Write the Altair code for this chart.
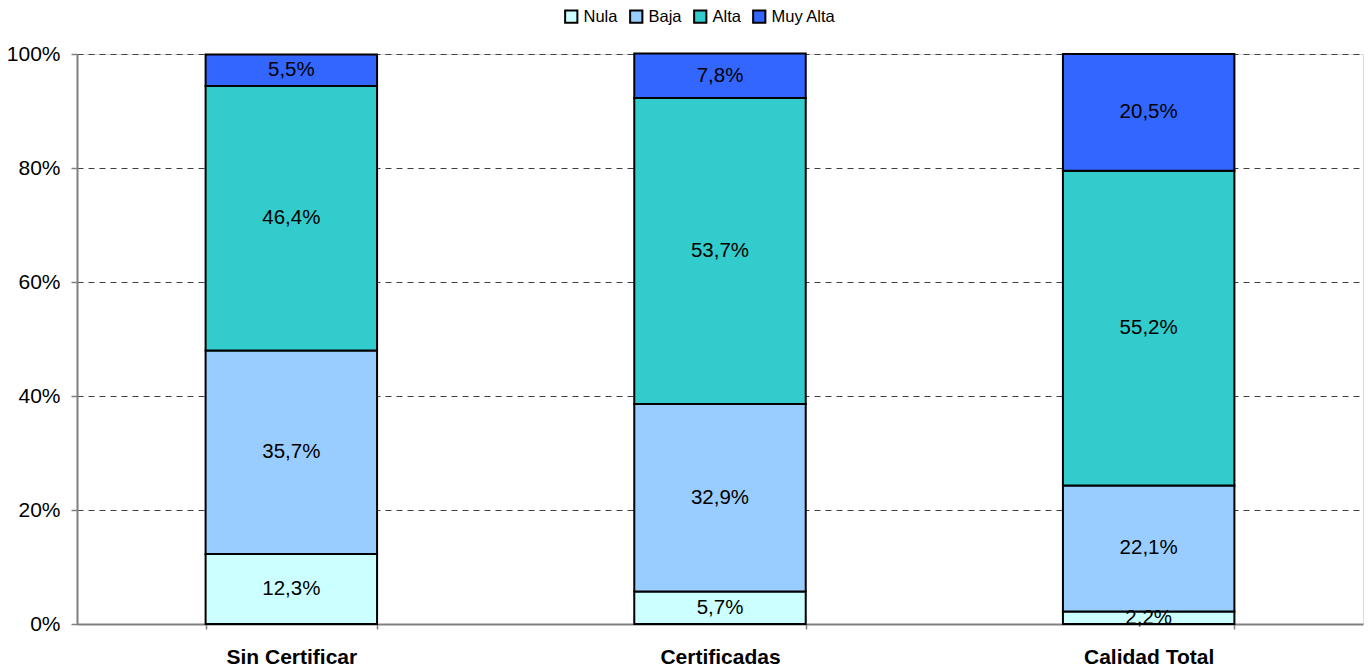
import altair as alt
import pandas as pd

# Quality-level shares (%) for each group of companies
groups = ["Sin Certificar", "Certificadas", "Calidad Total"]
levels = ["Nula", "Baja", "Alta", "Muy Alta"]
nula = [12.3, 5.7, 2.2]
baja = [35.7, 32.9, 22.1]
alta = [46.4, 53.7, 55.2]
muy_alta = [5.5, 7.8, 20.5]
level_colors = ["#CCFFFF", "#99CCFF", "#33CCCC", "#3366FF"]
y_ticks = [0, 20, 40, 60, 80, 100]

rows = []
for gi, g in enumerate(groups):
    for li, (lvl, series) in enumerate(zip(levels, [nula, baja, alta, muy_alta])):
        v = series[gi]
        rows.append({
            "grupo": g,
            "nivel": lvl,
            "orden": li,
            "valor": v,
            "etiqueta": f"{v:.1f}".replace(".", ",") + "%",
        })
df = pd.DataFrame(rows)

FONT = "Liberation Sans"

base = alt.Chart(df).transform_stack(
    stack="valor",
    groupby=["grupo"],
    sort=[alt.SortField("orden", order="ascending")],
    as_=["y0", "y1"],
).transform_calculate(
    mid="(datum.y0 + datum.y1) / 2"
)

x_enc = alt.X(
    "grupo:N",
    sort=groups,
    title=None,
    scale=alt.Scale(paddingInner=0.6, paddingOuter=0.3),
    axis=alt.Axis(
        labelAngle=0,
        labelFont=FONT,
        labelFontSize=21,
        labelFontWeight="bold",
        labelColor="black",
        labelPadding=17,
        tickBand="extent",
        tickSize=5,
        tickColor="#808080",
        tickWidth=1.5,
        domainColor="#808080",
        domainWidth=2,
        grid=False,
    ),
)

bars = base.mark_bar(stroke="black", strokeWidth=2).encode(
    x=x_enc,
    y=alt.Y(
        "y0:Q",
        title=None,
        scale=alt.Scale(domain=[0, 100], nice=False),
        axis=alt.Axis(
            values=y_ticks,
            labelExpr="datum.value + '%'",
            labelFont=FONT,
            labelFontSize=21,
            labelColor="black",
            labelPadding=11,
            tickSize=6,
            tickColor="#808080",
            tickWidth=1.5,
            domainColor="#808080",
            domainWidth=2,
            grid=True,
            gridColor="#404040",
            gridDash=[6, 5],
            gridWidth=1,
        ),
    ),
    y2="y1:Q",
    color=alt.Color(
        "nivel:N",
        sort=levels,
        scale=alt.Scale(domain=levels, range=level_colors),
        legend=alt.Legend(
            title=None,
            orient="none",
            direction="horizontal",
            legendX=486,
            legendY=-46,
            symbolType="square",
            symbolSize=150,
            symbolStrokeColor="black",
            symbolStrokeWidth=2,
            symbolOpacity=1,
            labelFont=FONT,
            labelFontSize=16.5,
            labelColor="black",
            labelOffset=4,
            columnPadding=8,
        ),
    ),
    order=alt.Order("orden:Q", sort="ascending"),
)

labels = base.mark_text(
    font=FONT, fontSize=20.5, color="black", baseline="middle", align="center"
).encode(
    x=alt.X("grupo:N", sort=groups),
    y=alt.Y("mid:Q"),
    text="etiqueta:N",
)

chart = (
    alt.layer(bars, labels)
    .properties(
        width=1286,
        height=570,
        autosize=alt.AutoSizeParams(type="none"),
        padding={"left": 77, "top": 54, "right": 8, "bottom": 44},
    )
    .configure_view(stroke=None)
    .configure(background="white")
)

chart.save("out.html", embed_options={"renderer": "svg", "actions": False})
